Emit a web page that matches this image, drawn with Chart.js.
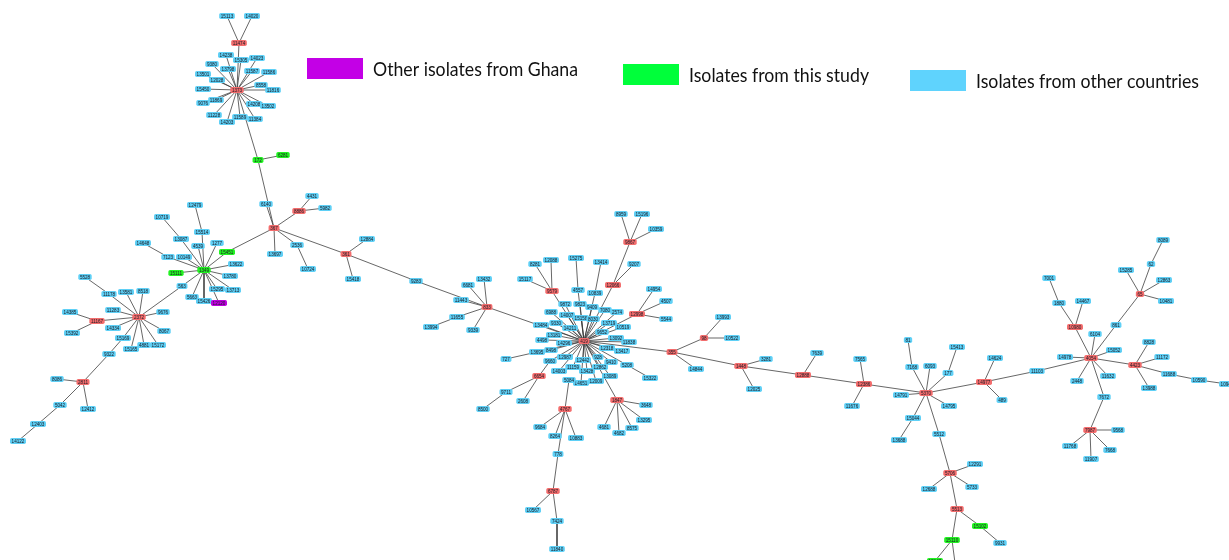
<!DOCTYPE html>
<html>
<head>
<meta charset="utf-8">
<script src="https://cdn.jsdelivr.net/npm/chart.js@4.4.1/dist/chart.umd.min.js"></script>
<style>
  html, body { margin: 0; padding: 0; background: #ffffff; }
  #wrap { width: 1229px; height: 560px; position: relative; }
</style>
</head>
<body>
<div id="wrap"><canvas id="mst"></canvas></div>
<script>
// Minimum spanning tree of sequence types (ST). Node groups:
// r = founder ST, o = isolates from other countries, g = isolates from this study, p = other isolates from Ghana
const nodeLabels = [
  "15113","14020","11474","14238","15305","14023","9380","13798","11587","11586","13501","12028","8558","15450","1373","11816","11869","9076","14208","13502","11228","11589","11384","14203","172","6281",
  "6140","367","8886","4431","5982","13697","2536","10724","361","12884","15418","9283",
  "12479","10719","15514","13087","4539","1277","15451","14648","7123","10149","13622","1349","15111","13780","563","15295","13713","5663","15426","12120",
  "5528","11178","13581","8518","11283","14385","11167","2372","9676","14334","15392","8067","15169","15165","4881","15172","9322","8086","2811","5042","12412","12403","14122",
  "6681","13432","11443","833","11655","13994","9339",
  "8959","15196","10359","9867","8281","12088","15275","13414","9207","15117","9579","12066","4557","10839","14954","4507","12998","5544",
  "9872","9823","9409","7080","2574","6988","14007","15158","8030","13719","10519","13484","9330","14211","419","13181","4498","14296","13695","8498","727",
  "12987","9660","12442","14003","11159","13428","12862","9652","13092","11838","12318","13417","928","9410","5208","15322","13089","12009","14651","5084",
  "6654","9711","2608","8500","1847","3648","13295","4681","4682","8575","4767","9684","8264","10883","778","6787","10567","7424","11840",
  "355","14844","98","13993","10522","1448","3281","12025","12888","7639","12386","7565","11676",
  "81","15413","7168","6093","177","14624","14977","489","11103","5370","14791","14795","15044","13688","5512","12291","5706","12688","5733","5513","15102","9931","15110","15147","15149",
  "8089","62","15285","12863","7001","65","10481","1880","14467","10980","861","6104","8828","15052","11172","14978","4054","4423","11688","11632","10590","10947","13988","2448","7672","7987","9568","11768","7668","11907"
];
const nodeX = [
  227,252,239,226,241,257,212,228,252,269,203,217,261,203,237,273,216,203,254,268,214,240,255,227,258,283,
  266,274,299,312,325,275,297,308,346,367,353,416,
  195,162,202,181,198,217,227,143,168,184,236,204,176,230,182,217,233,192,204,219,
  85,109,126,143,113,70,97,139,163,113,72,164,123,131,144,158,109,57,83,60,88,38,18,
  468,484,461,487,457,431,473,
  621,642,656,630,535,551,576,601,634,525,552,613,578,595,654,666,637,666,
  565,580,592,605,617,551,567,581,593,609,623,541,556,570,584,554,542,564,537,551,506,
  565,550,583,559,573,587,600,602,616,629,607,622,598,611,627,650,610,596,581,569,
  539,506,523,483,617,646,644,604,619,632,565,540,555,576,558,553,533,557,557,
  672,696,704,723,732,741,766,754,803,817,864,860,852,
  908,957,912,930,948,995,984,1002,1037,926,901,949,913,899,939,975,950,929,972,957,980,1000,952,935,957,
  1163,1151,1126,1164,1049,1140,1166,1059,1083,1075,1116,1095,1149,1114,1162,1065,1091,1135,1169,1108,1199,1227,1149,1077,1104,1090,1118,1070,1110,1091
];
const nodeY = [
  16,16,43,55,60,58,64,69,71,72,74,80,85,89,90,90,100,103,104,106,115,117,119,122,160,155,
  204,228,211,196,208,254,245,269,254,239,279,281,
  205,217,232,239,246,243,252,243,257,257,264,270,273,276,286,289,290,297,301,303,
  277,294,292,291,310,312,321,317,312,328,333,331,338,349,345,345,354,379,382,405,409,424,441,
  285,279,300,307,317,327,330,
  214,214,229,242,264,260,258,262,264,279,291,285,290,293,289,301,314,319,
  304,304,307,310,312,312,315,318,319,323,327,325,323,328,341,335,340,343,352,350,359,
  357,361,360,371,367,371,367,332,338,342,348,351,357,362,365,378,376,381,383,380,
  376,392,401,409,400,405,420,427,433,428,409,427,436,438,454,491,510,521,549,
  352,369,338,317,338,366,359,389,375,353,384,359,406,
  340,347,367,366,373,358,382,400,371,393,395,406,418,440,434,464,473,489,487,509,526,543,540,561,578,
  240,264,270,280,278,294,301,303,301,327,325,334,342,350,357,357,358,365,374,376,380,384,388,381,397,430,430,446,450,459
];
const nodeGroup = [
  "o","o","r","o","o","o","o","o","o","o","o","o","o","o","r","o","o","o","o","o","o","o","o","o","g","g",
  "o","r","r","o","o","o","o","o","r","o","o","o",
  "o","o","o","o","o","o","g","o","o","o","o","g","g","o","o","o","o","o","o","p",
  "o","o","o","o","o","o","r","r","o","o","o","o","o","o","o","o","o","o","r","o","o","o","o",
  "o","o","o","r","o","o","o",
  "o","o","o","r","o","o","o","o","o","o","r","r","o","o","o","o","r","o",
  "o","o","o","o","o","o","o","o","o","o","o","o","o","o","r","o","o","o","o","o","o",
  "o","o","o","o","o","o","o","o","o","o","o","o","o","o","o","o","o","o","o","o",
  "r","o","o","o","r","o","o","o","o","o","r","o","o","o","o","r","o","o","o",
  "r","o","r","o","o","r","o","o","r","o","r","o","o",
  "o","o","o","o","o","o","r","o","o","r","o","o","o","o","o","o","r","o","o","r","g","o","g","g","o",
  "o","o","o","o","o","r","o","o","o","r","o","o","o","o","o","o","r","r","o","o","o","o","o","o","o","r","o","o","o","o"
];

// Tree edges (pairs of ST labels)
const edgeFrom = [
  "11474","11474","11474","1373","1373","1373","1373","1373","1373","1373","1373","1373","1373","1373","1373","1373","1373","1373","1373","1373","1373","1373","1373","1373","172","172",
  "367","367","8886","8886","367","367","2536","367","361","361","361","9283","367",
  "15451","1349","15514","1349","13087","1349","1349","1349","7123","1349","1349","1349","1349","1349","1349","1349","1349","1349","1349","563",
  "2372","11178","2372","2372","2372","2372","11167","11167","2372","2372","2372","2372","2372","2372","2372","15169","9322","2811","2811","2811","5042","12403",
  "833","833","833","833","11655","833","833",
  "419","9579","9579","9579","419","4557","419","10839","419","12066","9867","9867","9867","12066","419","12998","12998","12998",
  "419","419","419","419","419","419","419","419","419","419","419","419","419","419","419","419","419","419","13695","419","419","419","9660","6654","9711","6654",
  "419","419","419","419","419","419","419","419","419","419","419","419","5208","419","419","419","419","5084","4767","4767","4767","4767","778","6787","6787","7424",
  "419","1847","1847","1847","1847","1847","419",
  "355","355","98","98","355","1448","1448","1448","12888","12888","12386","12386","12386",
  "5370","5370","7168","5370","5370","177","5370","5370","15044","5370","5512","5706","5706","5706","5706","5513","15102","5513","15110","15110","5370","14977","14977","14977","11103",
  "4054","4054","10980","10980","1880","4054","4054","861","65","65","62","65","65","4054","4054","4423","4423","4423","11688","10590","4423","4054","4054","4054","7672","7987","7987","7987","7987"
];
const edgeTo = [
  "15113","14020","1373","14238","15305","14023","9380","13798","11587","11586","13501","12028","8558","15450","11816","11869","9076","14208","13502","11228","11589","11384","14203","172","6281","367",
  "6140","8886","4431","5982","13697","2536","10724","361","12884","15418","9283","833","15451",
  "1349","15514","12479","13087","10719","4539","1277","7123","14648","10149","13622","15111","13780","563","15295","13713","5663","15426","12120","2372",
  "11178","5528","13581","8518","11283","11167","14385","15392","9676","14334","8067","15169","15165","4881","15172","9322","2811","8086","12412","5042","12403","14122",
  "6681","13432","11443","11655","13994","9339","419",
  "9579","8281","12088","15117","4557","15275","10839","13414","12066","9867","8959","15196","10359","9207","12998","14954","4507","5544",
  "9872","9823","9409","7080","2574","6988","14007","15158","8030","13719","10519","13484","9330","14211","13181","4498","14296","13695","727","8498","12987","9660","6654","9711","8500","2608",
  "12442","14003","11159","13428","12862","9652","13092","11838","12318","13417","928","5208","15322","9410","13089","12009","14651","4767","9684","8264","10883","778","6787","10567","7424","11840",
  "1847","3648","13295","4681","4682","8575","355",
  "14844","98","13993","10522","1448","3281","12025","12888","7639","12386","7565","11676","5370",
  "14791","7168","81","6093","177","15413","14795","15044","13688","5512","5706","12291","12688","5733","5513","15102","9931","15110","15147","15149","14977","14624","489","11103","4054",
  "14978","10980","14467","1880","7001","6104","861","65","15285","62","8089","12863","10481","15052","4423","8828","11172","11688","10590","10947","13988","11632","2448","7672","7987","9568","11768","7668","11907"
];

const legendLabels = ["Other isolates from Ghana", "Isolates from this study", "Isolates from other countries"];
const legendColors = ["#c300e6", "#00ff3a", "#5fd3fd"];

const groupFill = { r: "#f36d6d", o: "#5fd0f6", g: "#22f322", p: "#bf00e0" };

const indexOf = {};
nodeLabels.forEach((l, i) => { indexOf[l] = i; });

// Edge polyline: each edge is two points followed by a gap
const edgePoints = [];
edgeFrom.forEach((a, k) => {
  const i = indexOf[a], j = indexOf[edgeTo[k]];
  edgePoints.push({ x: nodeX[i], y: nodeY[i] }, { x: nodeX[j], y: nodeY[j] }, { x: null, y: null });
});

const nodePoints = nodeLabels.map((l, i) => ({ x: nodeX[i], y: nodeY[i] }));

const nodeBoxes = {
  id: "nodeBoxes",
  afterDatasetsDraw(chart) {
    const ctx = chart.ctx;
    const xs = chart.scales.x, ys = chart.scales.y;
    ctx.save();
    ctx.font = "4.6px 'Liberation Sans', Arial, sans-serif";
    ctx.textAlign = "center";
    ctx.textBaseline = "middle";
    nodeLabels.forEach((label, i) => {
      const px = xs.getPixelForValue(nodeX[i]);
      const py = ys.getPixelForValue(nodeY[i]);
      const w = ctx.measureText(label).width + 3.2;
      const h = 6.2;
      ctx.fillStyle = groupFill[nodeGroup[i]];
      ctx.beginPath();
      ctx.roundRect(px - w / 2, py - h / 2, w, h, 1.8);
      ctx.fill();
      ctx.fillStyle = "#1a1a24";
      ctx.fillText(label, px, py + 0.3);
    });
    ctx.restore();
  }
};

const legendBoxes = {
  id: "legendBoxes",
  afterDraw(chart) {
    const ctx = chart.ctx;
    const boxX = [307, 623, 910];
    const boxY = [58, 64, 70];
    const textW = [205, 180, 223];
    ctx.save();
    ctx.font = "19px Lato, 'Open Sans', sans-serif";
    ctx.textBaseline = "middle";
    ctx.textAlign = "left";
    legendLabels.forEach((t, k) => {
      ctx.fillStyle = legendColors[k];
      ctx.fillRect(boxX[k], boxY[k], 56, 21);
      ctx.fillStyle = "#111111";
      ctx.fillText(t, boxX[k] + 66, boxY[k] + 12, textW[k]);
    });
    ctx.restore();
  }
};

new Chart(document.getElementById("mst"), {
  type: "scatter",
  data: {
    datasets: [
      {
        label: "edges",
        data: edgePoints,
        showLine: true,
        spanGaps: false,
        borderColor: "rgba(55,55,55,0.85)",
        borderWidth: 0.9,
        pointRadius: 0,
        pointHoverRadius: 0
      },
      {
        label: "ST",
        data: nodePoints,
        pointRadius: 0,
        pointHoverRadius: 0
      }
    ]
  },
  options: {
    responsive: true,
    maintainAspectRatio: false,
    animation: false,
    events: [],
    layout: { padding: 0 },
    plugins: { legend: { display: false }, tooltip: { enabled: false } },
    scales: {
      x: { type: "linear", min: 0, max: 1229, display: false },
      y: { type: "linear", min: 0, max: 560, reverse: true, display: false }
    }
  },
  plugins: [nodeBoxes, legendBoxes]
});
</script>
</body>
</html>
